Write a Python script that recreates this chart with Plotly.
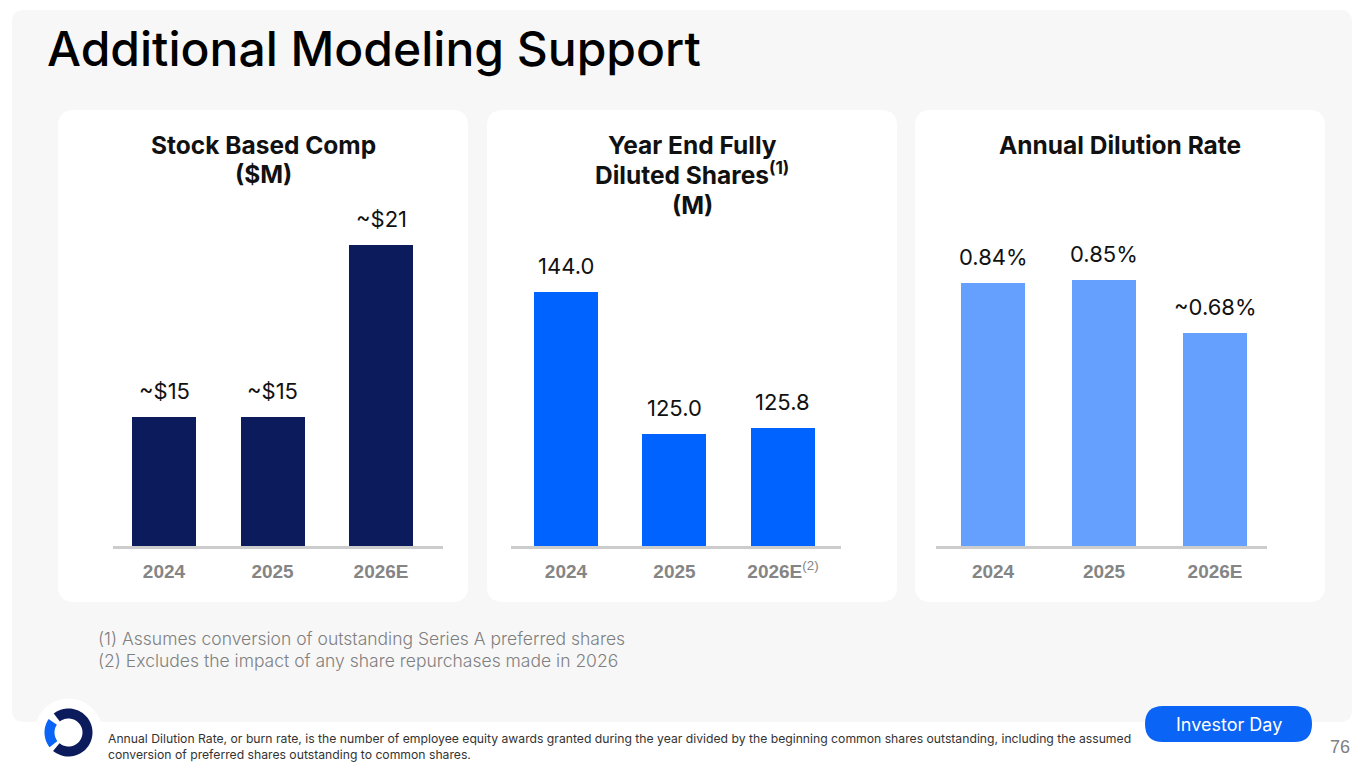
import math
import plotly.graph_objects as go

W, H = 1365, 768

# ---------------- data ----------------
years = ["2024", "2025", "2026E"]
sbc_values = [15, 15, 21]
sbc_labels = ["~$15", "~$15", "~$21"]
shares_values = [144.0, 125.0, 125.8]
shares_labels = ["144.0", "125.0", "125.8"]
dilution_values = [0.84, 0.85, 0.68]
dilution_labels = ["0.84%", "0.85%", "~0.68%"]
ticks_plain = ["<b>2024</b>", "<b>2025</b>", "<b>2026E</b>"]
ticks_shares = ["<b>2024</b>", "<b>2025</b>", "<b>2026E</b><sup>(2)</sup>"]

title_text = "Additional Modeling Support"
panel_titles = [
    ["Stock Based Comp", "($M)"],
    ["Year End Fully", "Diluted Shares<sup>(1)</sup>", "(M)"],
    ["Annual Dilution Rate"],
]
footnotes = [
    "(1) Assumes conversion of outstanding Series A preferred shares",
    "(2) Excludes the impact of any share repurchases made in 2026",
]
bottom_note = ("Annual Dilution Rate, or burn rate, is the number of employee equity awards granted during the year divided by the beginning common shares outstanding, including the assumed<br>"
               "conversion of preferred shares outstanding to common shares.")

NAVY = "#0c1b5c"
BLUE = "#0062ff"
LIGHT = "#66a0fe"
FONT = "Inter"


def X(px):
    return px / W


def Y(py):
    return 1 - py / H


def rrect(x0, y0, x1, y1, r):
    p = [
        f"M {X(x0 + r)},{Y(y0)}",
        f"L {X(x1 - r)},{Y(y0)}",
        f"Q {X(x1)},{Y(y0)} {X(x1)},{Y(y0 + r)}",
        f"L {X(x1)},{Y(y1 - r)}",
        f"Q {X(x1)},{Y(y1)} {X(x1 - r)},{Y(y1)}",
        f"L {X(x0 + r)},{Y(y1)}",
        f"Q {X(x0)},{Y(y1)} {X(x0)},{Y(y1 - r)}",
        f"L {X(x0)},{Y(y0 + r)}",
        f"Q {X(x0)},{Y(y0)} {X(x0 + r)},{Y(y0)}",
        "Z",
    ]
    return " ".join(p)


def sector(cx, cy, r_out, r_in, a0, a1, n=60):
    pts = []
    for i in range(n + 1):
        a = math.radians(a0 + (a1 - a0) * i / n)
        pts.append((cx + r_out * math.cos(a), cy - r_out * math.sin(a)))
    for i in range(n + 1):
        a = math.radians(a1 - (a1 - a0) * i / n)
        pts.append((cx + r_in * math.cos(a), cy - r_in * math.sin(a)))
    return "M " + " L ".join(f"{X(x)},{Y(y)}" for x, y in pts) + " Z"


def circle_path(cx, cy, r, n=80):
    pts = []
    for i in range(n):
        a = 2 * math.pi * i / n
        pts.append((cx + r * math.cos(a), cy - r * math.sin(a)))
    return "M " + " L ".join(f"{X(x)},{Y(y)}" for x, y in pts) + " Z"


fig = go.Figure()

panels = [
    dict(vals=sbc_values, labels=sbc_labels, color=NAVY, ticks=ticks_plain,
         xdom=(113, 443), xr=(-0.470, 2.571), yr=(10.5, 22.57), width=0.59),
    dict(vals=shares_values, labels=shares_labels, color=BLUE, ticks=ticks_shares,
         xdom=(511, 841), xr=(-0.507, 2.535), yr=(110.02, 156.31), width=0.59),
    dict(vals=dilution_values, labels=dilution_labels, color=LIGHT, ticks=ticks_plain,
         xdom=(936, 1267), xr=(-0.514, 2.468), yr=(0, 1.105), width=0.577),
]

Y_BASE, Y_TOP = 546, 200
annotations = []

for i, p in enumerate(panels):
    n = "" if i == 0 else str(i + 1)
    fig.add_trace(go.Bar(
        x=years, y=p["vals"], width=p["width"],
        marker=dict(color=p["color"], line=dict(width=0)),
        xaxis="x" + n, yaxis="y" + n, showlegend=False, hoverinfo="skip",
    ))
    fig.update_layout(**{
        "xaxis" + n: dict(
            domain=[X(p["xdom"][0]), X(p["xdom"][1])], anchor="y" + n,
            type="category", categoryarray=years, range=list(p["xr"]),
            tickvals=years, ticktext=p["ticks"],
            showline=True, linecolor="#cccccc", linewidth=3,
            showgrid=False, zeroline=False, ticks="",
            tickfont=dict(family="Liberation Sans", size=19, color="#858585"),
            ticklabelstandoff=6, fixedrange=True,
        ),
        "yaxis" + n: dict(
            domain=[Y(Y_BASE), Y(Y_TOP)], anchor="x" + n,
            range=list(p["yr"]), visible=False, showgrid=False,
            zeroline=False, fixedrange=True,
        ),
    })
    for k, (v, lab) in enumerate(zip(p["vals"], p["labels"])):
        annotations.append(dict(
            x=k, y=v, xref="x" + n, yref="y" + n, text=lab, showarrow=False,
            yanchor="bottom", yshift=11,
            font=dict(family=FONT, size=22, color="#111111"),
        ))

# shapes: backgrounds
shapes = [
    dict(type="path", path=rrect(12, 10, 1352, 722, 12), xref="paper", yref="paper",
         fillcolor="#f7f7f7", line=dict(width=0), layer="below"),
]
panel_boxes = [(58, 110, 468, 602), (487, 110, 897, 602), (915, 110, 1325, 602)]
for b in panel_boxes:
    shapes.append(dict(type="path", path=rrect(*b, 16), xref="paper", yref="paper",
                       fillcolor="#ffffff", line=dict(width=0), layer="below"))

# logo
shapes.append(dict(type="path", path=circle_path(68.5, 732.5, 34), xref="paper", yref="paper",
                   fillcolor="#ffffff", line=dict(width=0), layer="below"))
shapes.append(dict(type="path", path=sector(68.5, 732.5, 24, 14, 230, 488), xref="paper",
                   yref="paper", fillcolor="#0c1b5c", line=dict(width=0), layer="above"))
shapes.append(dict(type="path", path=sector(68.5, 732.5, 24, 14, 146, 218), xref="paper",
                   yref="paper", fillcolor="#0a64f5", line=dict(width=0), layer="above"))

# Investor Day pill
shapes.append(dict(type="path", path=rrect(1145, 706, 1312, 742, 18), xref="paper", yref="paper",
                   fillcolor="#0a64f5", line=dict(width=0), layer="above"))

# title
annotations.append(dict(x=X(45), y=Y(48), xref="paper", yref="paper", text=title_text,
                        showarrow=False, xanchor="left", yanchor="middle",
                        font=dict(family=FONT, size=48, color="#000000", weight=500)))

# panel titles
centers = [263, 692, 1120]
for c, lines in zip(centers, panel_titles):
    for j, line in enumerate(lines):
        ypix = 145 + 28.5 * j + (2.5 if j == 2 else 0)
        annotations.append(dict(x=X(c), y=Y(ypix), xref="paper", yref="paper",
                                text=f"<b>{line}</b>", showarrow=False,
                                xanchor="center", yanchor="middle",
                                font=dict(family=FONT, size=24.5, color="#111111")))

# footnotes
for j, t in enumerate(footnotes):
    annotations.append(dict(x=X(96), y=Y(638 + 22 * j), xref="paper", yref="paper", text=t,
                            showarrow=False, xanchor="left", yanchor="middle",
                            font=dict(family=FONT, size=17.5, color="#7f7f7f", weight=300)))

annotations.append(dict(x=X(106), y=Y(746.5), xref="paper", yref="paper", text=bottom_note,
                        showarrow=False, xanchor="left", yanchor="middle", align="left",
                        font=dict(family=FONT, size=12.2, color="#333333")))

annotations.append(dict(x=X(1228.5), y=Y(724), xref="paper", yref="paper", text="Investor Day",
                        showarrow=False, xanchor="center", yanchor="middle",
                        font=dict(family=FONT, size=18, color="#ffffff")))
annotations.append(dict(x=X(1340), y=Y(747), xref="paper", yref="paper", text="76",
                        showarrow=False, xanchor="center", yanchor="middle",
                        font=dict(family="Liberation Sans", size=18, color="#808080")))

fig.update_layout(
    width=W, height=H, margin=dict(l=0, r=0, t=0, b=0, pad=0),
    paper_bgcolor="#ffffff", plot_bgcolor="rgba(0,0,0,0)",
    shapes=shapes, annotations=annotations, bargap=0,
    font=dict(family=FONT),
)

fig.write_html("out.html", config={"displayModeBar": False},
               post_script="document.body.style.margin='0';document.body.style.overflow='hidden';")
